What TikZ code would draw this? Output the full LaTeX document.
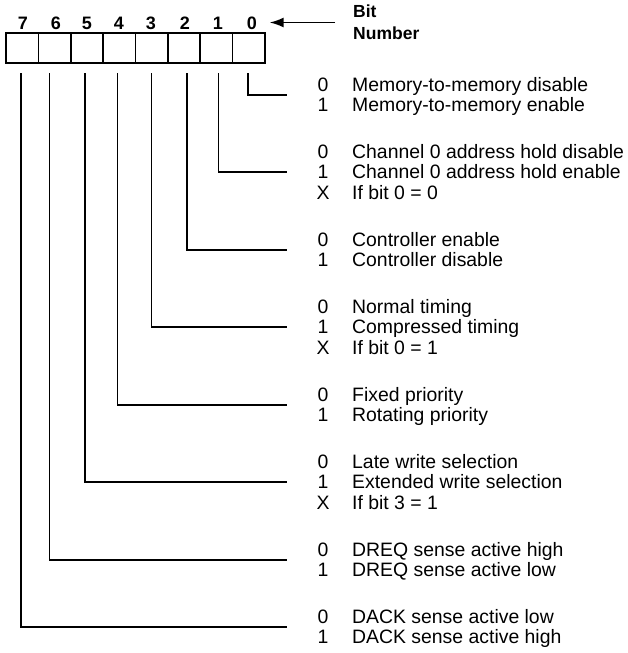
\documentclass[tikz,border=0pt]{standalone}
\usepackage{fontspec}
\setmainfont{Liberation Sans}
\usetikzlibrary{arrows.meta}
\begin{document}
\begin{tikzpicture}[x=1pt,y=-1pt,
  reg/.style={draw, line width=1.7pt, minimum width=32.375pt, minimum height=30pt, inner sep=0pt, outer sep=0pt},
  bitnum/.style={font=\fontsize{18}{20}\selectfont\bfseries, inner sep=0pt, anchor=base},
  val/.style={font=\fontsize{19.4}{20.4}\selectfont, inner sep=0pt, anchor=base},
  lbl/.style={font=\fontsize{19.4}{20.4}\selectfont, inner sep=0pt, anchor=base west},
  conn/.style={line width=1.6pt},
  head/.style={font=\fontsize{17.5}{22}\selectfont\bfseries, align=left, anchor=west, inner sep=0pt}]
\useasboundingbox (0,0) rectangle (627,653);
% register cells
\foreach \k in {0,...,7} {
  \pgfmathtruncatemacro\bit{7-\k}
  \node[reg] (c\bit) at ({6+32.375*(\k+0.5)},48) {};
}
% bit numbers
\foreach \b/\x in {7/23,6/56,5/87,4/119,3/151,2/185,1/218,0/252} {
  \node[bitnum] (n\b) at (\x,29) {\b};
}
\node[head] (bitlbl) at (353,22.5) {Bit\\Number};
\draw[conn, -{Latex[length=14pt,width=10pt]}] ([xshift=-18pt]bitlbl.west) -- ([xshift=12.5pt]n0.east |- bitlbl.west);
% value rows
\foreach \nm/\y/\d/\t in {
  a/85/0/Memory-to-memory disable,
  b/105/1/Memory-to-memory enable,
  c/152/0/Channel 0 address hold disable,
  d/172/1/Channel 0 address hold enable,
  e/193/X/If bit 0 = 0,
  f/240/0/Controller enable,
  g/260/1/Controller disable,
  h/307/0/Normal timing,
  i/327/1/Compressed timing,
  j/348/X/If bit 0 = 1,
  k/395/0/Fixed priority,
  l/415/1/Rotating priority,
  m/462/0/Late write selection,
  n/482/1/Extended write selection,
  o/503/X/If bit 3 = 1,
  p/550/0/DREQ sense active high,
  q/570/1/DREQ sense active low,
  r/617/0/DACK sense active low,
  s/637/1/DACK sense active high} {
  \node[val] (v\nm) at (323,\y+6.9) {\d};
  \node[lbl] (l\nm) at (352,\y+6.9) {\t};
}
% connectors
\foreach \b/\dx/\ly in {0/-1/95, 1/2/172, 2/3/250, 3/0/327, 4/-2/405, 5/-2/482, 6/-5/560, 7/-1/627} {
  \coordinate (e\b) at (287,\ly);
  \draw[conn] ([xshift=\dx pt, yshift=-10pt]c\b.south) |- (e\b);
}
\end{tikzpicture}
\end{document}
